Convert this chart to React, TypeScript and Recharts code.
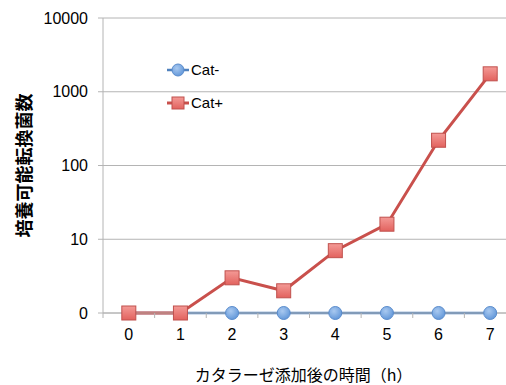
import { LineChart, Line, XAxis, YAxis, CartesianGrid, Label } from 'recharts';

const hours = [0, 1, 2, 3, 4, 5, 6, 7];
const catMinus = [1, 1, 1, 1, 1, 1, 1, 1];
const catPlus = [1, 1, 3, 2, 7, 16, 220, 1750];
const yTicks = [1, 10, 100, 1000, 10000];

const data = hours.map((h, i) => ({ h, catMinus: catMinus[i], catPlus: catPlus[i] }));

// labels on whole hours, short tick marks on the half-hour boundaries
const xTicks: number[] = [];
for (let v = -0.5; v <= 7.5; v += 0.5) xTicks.push(v);

const FONT = '"Liberation Sans", Arial, sans-serif';
const JP_FONT = '"Noto Sans CJK JP", sans-serif';
const GRID = '#b4b4b4';
const BLUE = '#4f81bd';
const RED = '#c9504c';

const BlueDot = (props: any) => {
  const { cx, cy, index } = props;
  return (
    <circle key={`b${index}`} cx={cx} cy={cy} r={6.5} fill="url(#blueFill)" stroke="#5a8ccc" strokeWidth={1} />
  );
};

const RedDot = (props: any) => {
  const { cx, cy, index } = props;
  return (
    <rect key={`r${index}`} x={cx - 7} y={cy - 7} width={14} height={14} fill="url(#redFill)" stroke="#c0504d" strokeWidth={1} />
  );
};

const XTick = ({ x, y, payload }: any) => {
  if (Number.isInteger(payload.value)) {
    return (
      <text x={x} y={y + 27} textAnchor="middle" fontSize={16} fontFamily={FONT} fill="#000">
        {payload.value}
      </text>
    );
  }
  return <line x1={x} x2={x} y1={y} y2={y + 5} stroke={GRID} />;
};

const LegendBox = () => (
  <svg width={120} height={50} style={{ position: 'absolute', left: 165, top: 62 }}>
    <line x1={2} x2={24} y1={8} y2={8} stroke={BLUE} strokeWidth={2.5} />
    <circle cx={13} cy={8} r={6} fill="url(#blueFill)" stroke="#5a8ccc" />
    <text x={26} y={13} fontSize={15} fontFamily={FONT} fill="#000">Cat-</text>
    <line x1={2} x2={24} y1={41} y2={41} stroke={RED} strokeWidth={3} />
    <rect x={7} y={35} width={12} height={12} fill="url(#redFill)" stroke="#c0504d" />
    <text x={26} y={46} fontSize={15} fontFamily={FONT} fill="#000">Cat+</text>
  </svg>
);

export default function App() {
  return (
    <div style={{ position: 'absolute', left: 0, top: 0, width: 506, height: 385, overflow: 'hidden', background: '#fff' }}>
      <LineChart width={520} height={385} data={data} margin={{ top: 18, right: 4, left: 0, bottom: 0 }}>
        <defs>
          <radialGradient id="blueFill" cx="40%" cy="35%" r="70%">
            <stop offset="0%" stopColor="#a9c9f0" />
            <stop offset="100%" stopColor="#5f95d8" />
          </radialGradient>
          <linearGradient id="redFill" x1="0" y1="0" x2="0" y2="1">
            <stop offset="0%" stopColor="#f49a96" />
            <stop offset="100%" stopColor="#e2625e" />
          </linearGradient>
        </defs>
        <CartesianGrid vertical={false} stroke={GRID} />
        <XAxis
          dataKey="h"
          type="number"
          domain={[-0.5, 7.5]}
          ticks={xTicks}
          interval={0}
          tick={<XTick />}
          tickLine={false}
          tickSize={0}
          tickMargin={0}
          axisLine={{ stroke: GRID }}
          height={72}
        >
          <Label
            content={({ viewBox }: any) => (
              <text
                x={viewBox.x + viewBox.width / 2 - 6}
                y={viewBox.y + 68}
                textAnchor="middle"
                fontSize={16}
                fontFamily={JP_FONT}
                fill="#000"
              >
                カタラーゼ添加後の時間（h）
              </text>
            )}
          />
        </XAxis>
        <YAxis
          scale="log"
          domain={[1, 10000]}
          ticks={yTicks}
          interval={0}
          width={103}
          tickFormatter={(v: number) => (v === 1 ? '0' : String(v))}
          tick={{ fontSize: 16, fill: '#000', fontFamily: FONT }}
          tickLine={{ stroke: GRID }}
          tickSize={5}
          tickMargin={10}
          axisLine={{ stroke: GRID }}
        >
          <Label
            content={({ viewBox }: any) => {
              const cx = viewBox.x + 23;
              const cy = viewBox.y + viewBox.height / 2;
              return (
                <text
                  x={cx}
                  y={cy}
                  transform={`rotate(-90 ${cx} ${cy})`}
                  textAnchor="middle"
                  dominantBaseline="central"
                  fontSize={18}
                  fontWeight="bold"
                  fontFamily={JP_FONT}
                  fill="#000"
                >
                  培養可能転換菌数
                </text>
              );
            }}
          />
        </YAxis>
        <Line
          dataKey="catMinus"
          name="Cat-"
          stroke={BLUE}
          strokeWidth={2.5}
          dot={<BlueDot />}
          isAnimationActive={false}
        />
        <Line
          dataKey="catPlus"
          name="Cat+"
          stroke={RED}
          strokeWidth={3}
          dot={<RedDot />}
          isAnimationActive={false}
        />
      </LineChart>
      <LegendBox />
    </div>
  );
}
